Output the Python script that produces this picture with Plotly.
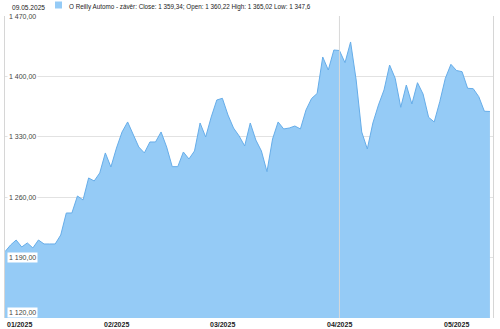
import pandas as pd
import plotly.graph_objects as go

# ---- data ----
holidays = ["2025-01-09", "2025-01-20", "2025-02-17", "2025-04-18"]
dates = [d.strftime("%Y-%m-%d") for d in pd.bdate_range("2025-01-02", "2025-05-09")
         if d.strftime("%Y-%m-%d") not in holidays]

close = [
    1196.9, 1204.6, 1210.4, 1202.3, 1207.0, 1201.2, 1210.4, 1205.8, 1205.8, 1205.8,
    1216.2, 1241.7, 1241.7, 1261.4, 1256.8, 1282.3, 1278.8, 1288.1, 1311.3, 1295.0,
    1317.0, 1335.6, 1347.2, 1333.3, 1318.2, 1311.3, 1324.0, 1324.0, 1335.6, 1318.2,
    1295.4, 1295.4, 1312.4, 1304.3, 1313.6, 1346.0, 1329.8, 1353.0, 1372.7, 1374.6,
    1355.3, 1340.2, 1331.0, 1319.4, 1346.0, 1326.3, 1313.6, 1289.6, 1327.5, 1347.2,
    1339.1, 1340.2, 1342.5, 1339.1, 1361.1, 1374.4, 1380.2, 1422.5, 1407.4, 1430.6,
    1430.0, 1415.9, 1439.9, 1395.8, 1335.6, 1315.9, 1346.0, 1366.9, 1384.3, 1413.2,
    1397.8, 1364.2, 1390.0, 1368.0, 1392.7, 1379.6, 1352.6, 1347.2, 1370.7, 1397.8,
    1414.0, 1406.8, 1405.5, 1386.2, 1385.8, 1376.5, 1359.6, 1359.34,
]

month_ticks = ["2025-01-02", "2025-02-03", "2025-03-03", "2025-04-01", "2025-05-01"]
month_labels = ["01/2025", "02/2025", "03/2025", "04/2025", "05/2025"]
y_ticks = [1120, 1190, 1260, 1330, 1400, 1470]

header_date = "09.05.2025"
legend_text = "O Reilly Automo - závěr: Close: 1 359,34; Open: 1 360,22 High: 1 365,02 Low: 1 347,6"
quarter_line = "2025-04-01"

FILL = "#95cbf6"
LINE = "#66ade9"
FONT = "Liberation Sans, Arial, sans-serif"

fig = go.Figure()
fig.add_trace(go.Scatter(
    x=dates, y=close, mode="lines", fill="tozeroy",
    line=dict(color=LINE, width=1), fillcolor=FILL, showlegend=False,
))

def fmt(v):
    return f"{v:,.2f}".replace(",", " ").replace(".", ",")

annotations = []
for i, v in enumerate(y_ticks):
    annotations.append(dict(
        x=0, xref="paper", y=v, yref="y", xshift=2,
        xanchor="left", yanchor="bottom" if i == 0 else "middle",
        text=fmt(v), showarrow=False, bgcolor="white", borderpad=1,
        font=dict(family=FONT, size=7, color="#444"),
    ))
for i, (d, lab) in enumerate(zip(month_ticks, month_labels)):
    annotations.append(dict(
        x=d, xref="x", y=0, yref="paper", yshift=-1,
        xanchor="left" if i == 0 else "center", yanchor="top",
        text=f"<b>{lab}</b>", showarrow=False,
        font=dict(family=FONT, size=7, color="#222"),
    ))
annotations.append(dict(
    x=0, xref="paper", y=1, yref="paper", xshift=5, yshift=9,
    xanchor="left", yanchor="middle", text=header_date, showarrow=False,
    font=dict(family=FONT, size=6.6, color="#222"),
))
annotations.append(dict(
    x=0, xref="paper", y=1, yref="paper", xshift=62, yshift=9,
    xanchor="left", yanchor="middle", text=legend_text, showarrow=False,
    font=dict(family=FONT, size=6.3, color="#222"),
))

fig.update_layout(
    width=500, height=329, autosize=False,
    margin=dict(l=5, r=7, t=16, b=11),
    paper_bgcolor="white", plot_bgcolor="white",
    annotations=annotations,
    shapes=[dict(
        type="rect", xref="paper", yref="paper",
        x0=50 / 488, x1=57 / 488, y0=1 + 7.5 / 302, y1=1 + 14.5 / 302,
        fillcolor=FILL, line=dict(width=0),
    )],
    xaxis=dict(type="category", range=[0, 87.55], showticklabels=False,
               showgrid=False, zeroline=False, showline=False),
    yaxis=dict(range=[1120, 1470], tickvals=y_ticks, showticklabels=False,
               gridcolor="#e2e2e2", gridwidth=1, zeroline=False,
               showline=True, mirror=True, linecolor="#d6d6d6", linewidth=1),
)
fig.add_vline(x=quarter_line, line=dict(color="#d8d8d8", width=1), layer="above")

fig.write_html("out.html")
